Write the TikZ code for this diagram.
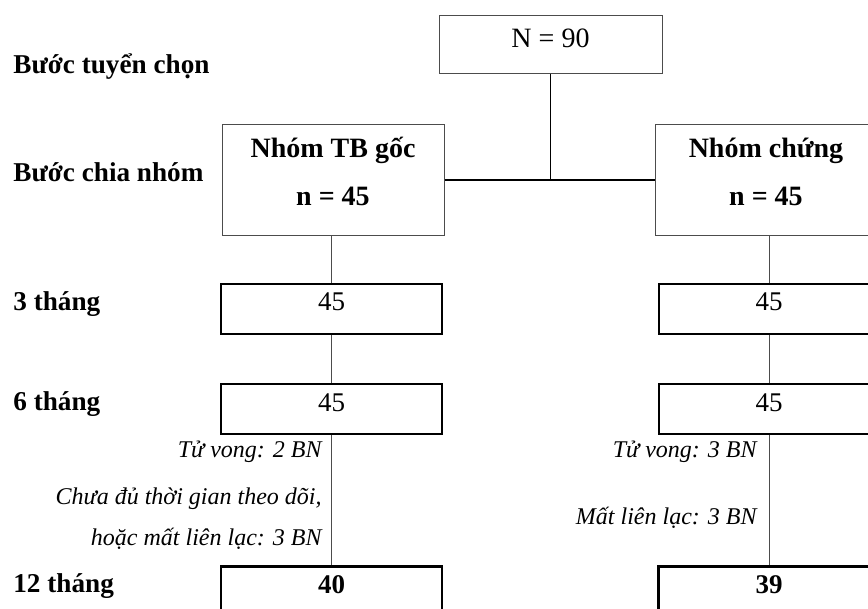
\documentclass[tikz,border=0pt]{standalone}
\usepackage{fontspec}
\setmainfont{Liberation Serif}
\usepackage{tikz}
\definecolor{rim}{gray}{0.3}

\begin{document}
\begin{tikzpicture}[x=0.5pt,y=-0.5pt,
    stage/.style={anchor=base west,inner sep=0pt,font=\fontsize{13.6}{15}\selectfont\bfseries},
    note/.style={anchor=base east,inner sep=0pt,font=\fontsize{12}{14}\selectfont\itshape},
    grp/.style={draw=rim,line width=0.5pt,anchor=north,align=center,inner sep=0pt,minimum width=111pt,font=\fontsize{14}{24}\selectfont\bfseries},
    cnt/.style={draw=black,line width=1pt,anchor=north,inner sep=0pt,minimum width=110.5pt,text height=13.5pt,text depth=11.5pt,font=\fontsize{13.5}{15}\selectfont}]
  \useasboundingbox (0,0) rectangle (868,609);
  \clip (0,0) rectangle (868,609);
  % stages
  \node[stage] (s0) at (13,74) {Bước tuyển chọn};
  \node[stage] (s1) at (13,182) {Bước chia nhóm};
  \node[stage] (s3) at (13,311) {3 tháng};
  \node[stage] (s6) at (13,410) {6 tháng};
  \node[stage] (s12) at (13,592) {12 tháng};
  % boxes
  \node[draw=rim,line width=0.5pt,anchor=north,inner sep=0pt,minimum width=111.5pt,text height=16pt,text depth=13pt,font=\fontsize{14}{16}\selectfont] (N) at (550.5,15) {N = 90};
  \node[grp] (g1) at (333,124) {\rule{0pt}{16.5pt}Nhóm TB gốc\\n = 45\rule[-15pt]{0pt}{15pt}};
  \node[grp] (g2) at (766,124) {\rule{0pt}{16.5pt}Nhóm chứng\\n = 45\rule[-15pt]{0pt}{15pt}};
  \node[cnt] (a3) at (331.5,283) {45};
  \node[cnt] (b3) at (769,283) {45};
  \node[cnt] (a6) at (331.5,383) {45};
  \node[cnt] (b6) at (769,383) {45};
  \node[cnt,line width=1.3pt,font=\fontsize{13.5}{15}\selectfont\bfseries] (a12) at (331.5,565) {40};
  \node[cnt,line width=1.3pt,font=\fontsize{13.5}{15}\selectfont\bfseries] (b12) at (769,565) {39};
  % losses
  \node[note] (d1) at (322,458) {Tử vong: 2 BN};
  \node[note] (d2) at (322,504) {Chưa đủ thời gian theo dõi,};
  \node[note] (d3) at (322,545) {hoặc mất liên lạc: 3 BN};
  \node[note] (e1) at (757,458) {Tử vong: 3 BN};
  \node[note] (e2) at (757,524) {Mất liên lạc: 3 BN};
  % links
  \path[line width=0.8pt]
    (N.south) edge (N.south |- g1.east)
    (g1.east) edge (g2.west);
  \path[draw=rim,line width=0.5pt]
    (a3.north |- g1.south) edge (a3.north)
    (a3.south) edge (a6.north)
    (a6.south) edge (a12.north)
    (b3.north |- g2.south) edge (b3.north)
    (b3.south) edge (b6.north)
    (b6.south) edge (b12.north);
\end{tikzpicture}
\end{document}
